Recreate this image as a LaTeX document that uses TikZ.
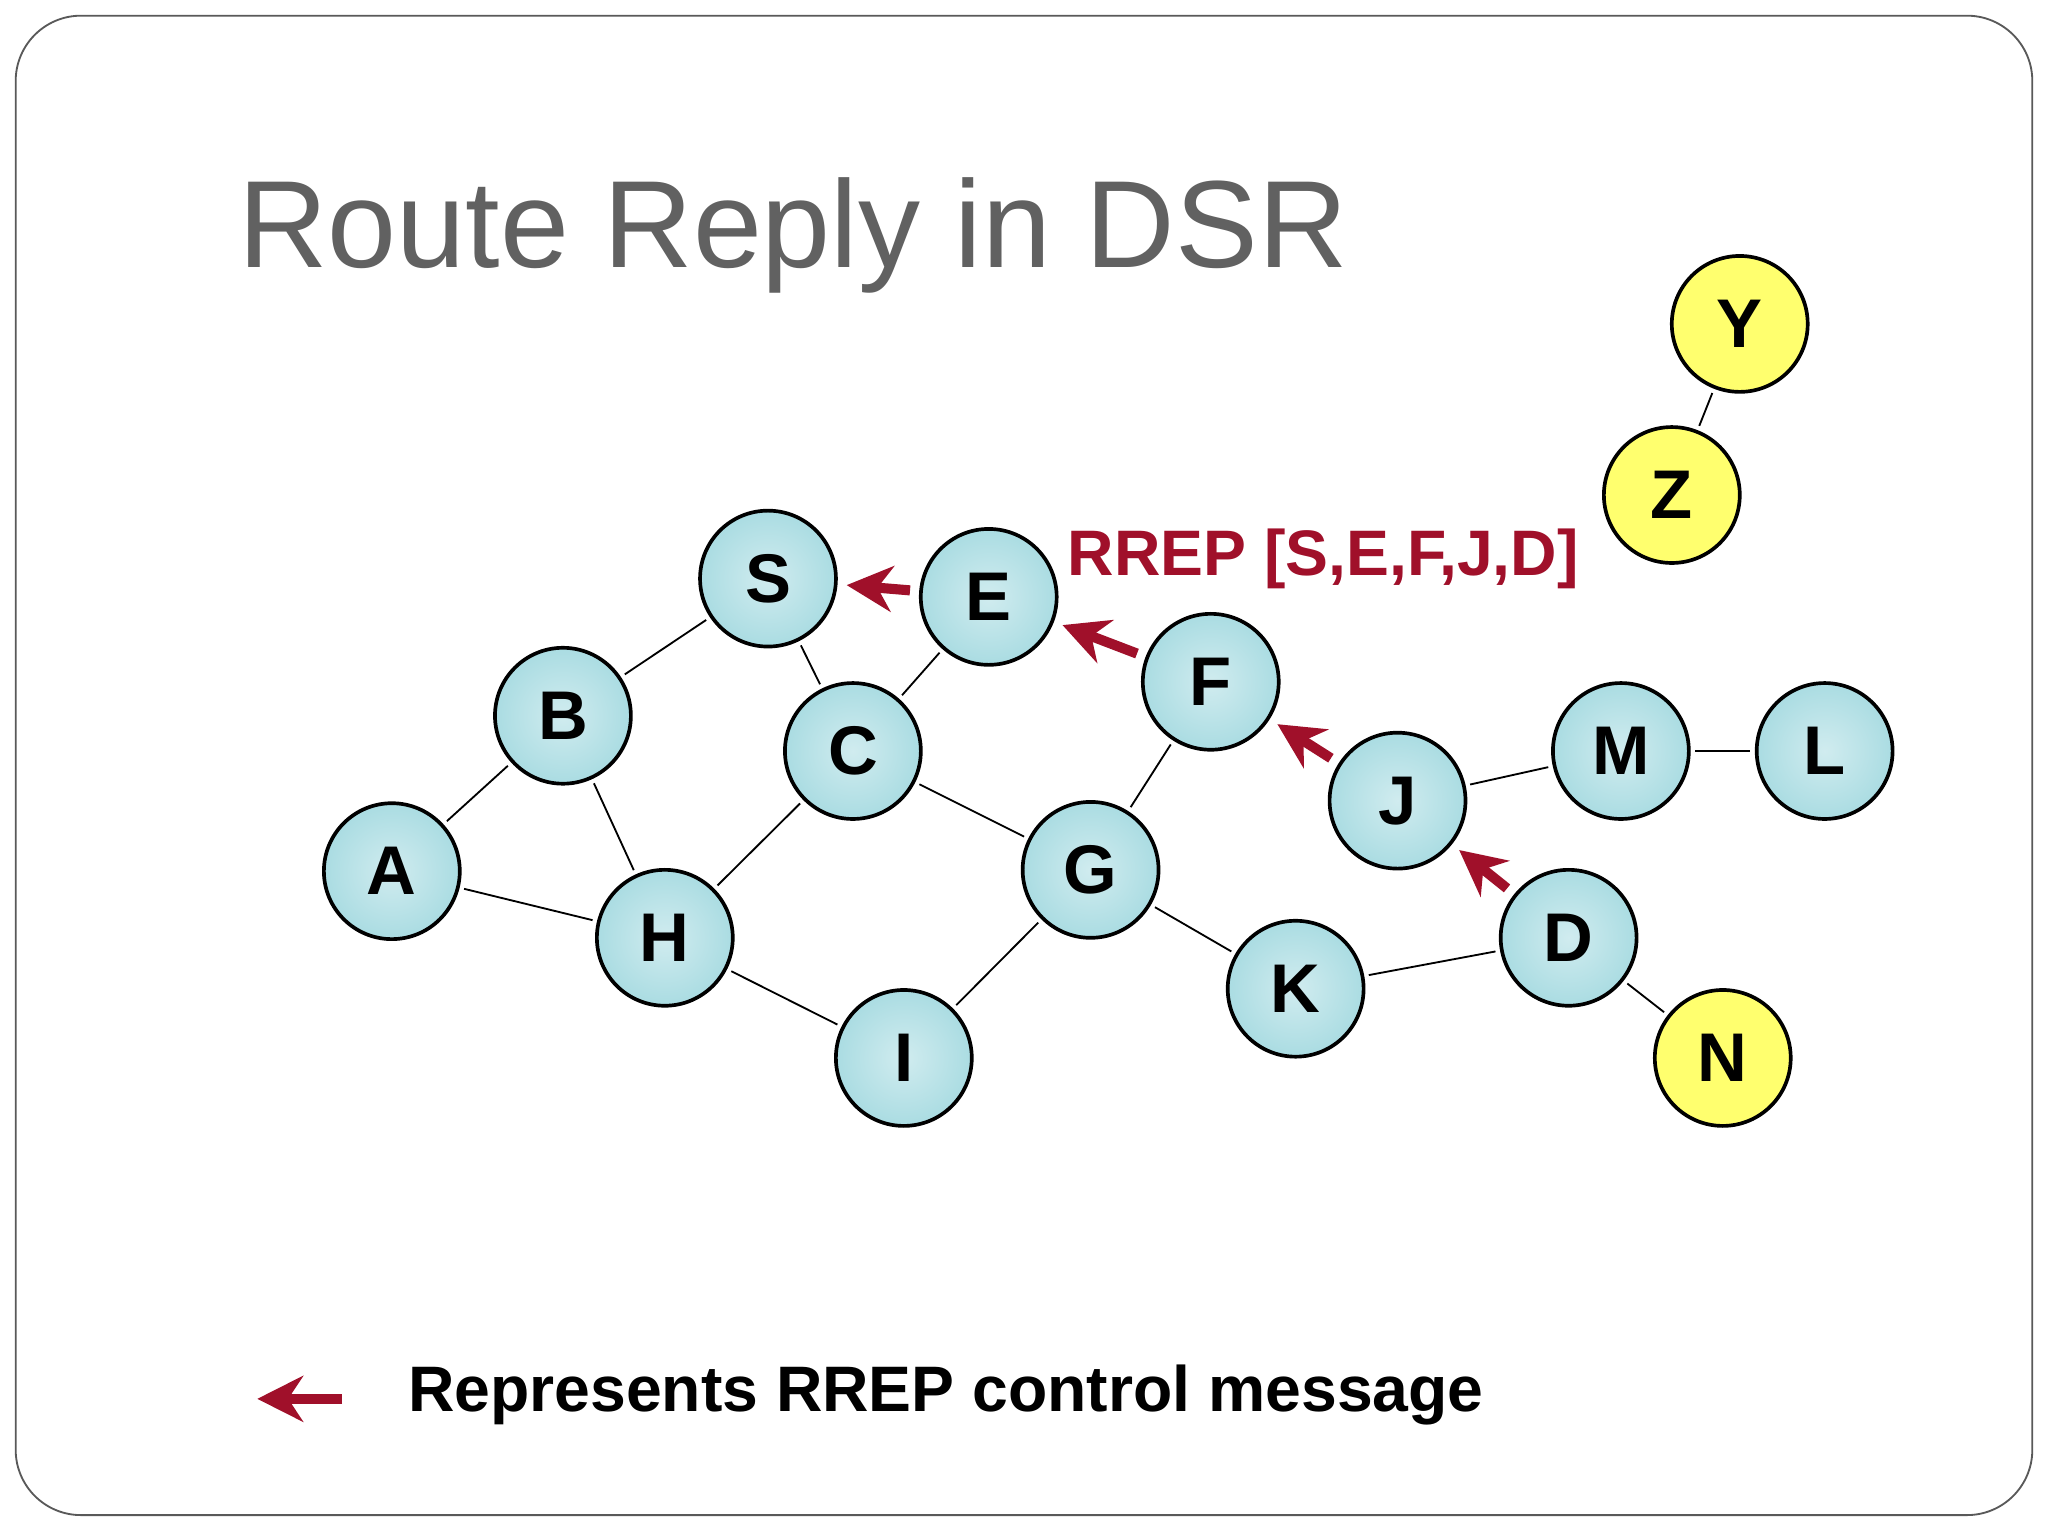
\documentclass[tikz,border=0pt]{standalone}
\usepackage{fontspec}
\setmainfont{Liberation Sans}
\usetikzlibrary{arrows.meta,positioning}

\definecolor{rrepred}{RGB}{160,16,42}
\definecolor{nodecyan}{RGB}{170,220,226}
\definecolor{nodeyellow}{RGB}{255,255,110}

\tikzset{
  base/.style={circle, draw=black, thick, minimum size=1.04cm, inner sep=0pt,
               font=\fontsize{15}{15}\selectfont\bfseries},
  host/.style={base, inner color=nodecyan!55, outer color=nodecyan},
  idle/.style={base, fill=nodeyellow},
  link/.style={black, thin, shorten <=1pt, shorten >=1pt},
  rrep/.style={rrepred, line width=2.2pt, -{Stealth[length=3.5mm,width=3.5mm]}, shorten <=2pt, shorten >=2pt}
}

\begin{document}
\begin{tikzpicture}[x=0.01cm, y=-0.01cm]
  % Frame
  \useasboundingbox (0,0) rectangle (1568,1176);
  \fill[white] (0,0) rectangle (1568,1176);
  \draw[gray!70!black, rounded corners=0.5cm] (12,12) rectangle (1556,1160);

  % Title
  \node[anchor=west, text=black!62, font=\fontsize{27}{27}\selectfont] (title) at (170,180) {Route Reply in DSR};

  % Hosts
  \node[host] (S) at (588,443) {S};
  \node[host] (E) at (757,457) {E};
  \node[host] (B) at (431,548) {B};
  \node[host] (C) at (653,575) {C};
  \node[host] (F) at (927,522) {F};
  \node[host] (A) at (300,667) {A};
  \node[host] (H) at (509,718) {H};
  \node[host] (G) at (835,666) {G};
  \node[host] (J) at (1070,613) {J};
  \node[host] (M) at (1241,575) {M};
  \node[host] (L) at (1397,575) {L};
  \node[host] (D) at (1201,718) {D};
  \node[host] (K) at (992,757) {K};
  \node[host] (I) at (692,810) {I};
  \node[idle] (N) at (1319,810) {N};
  \node[idle] (Y) at (1332,248) {Y};
  \node[idle] (Z) at (1280,379) {Z};

  % Links
  \foreach \u/\v in {S/B, S/C, E/C, B/A, B/H, A/H, C/H, C/G, H/I, I/G,
                     G/F, G/K, K/D, D/N, J/M, M/L, Y/Z}
    \draw[link] (\u) -- (\v);

  % Route reply
  \foreach \u/\v in {E/S, F/E, J/F, D/J}
    \draw[rrep] (\u) -- (\v);
  \node[text=rrepred, font=\fontsize{14}{14}\selectfont\bfseries] (label) at (1013,428) {RREP [S,E,F,J,D]};

  % Legend
  \coordinate (legstart) at (262,1071);
  \coordinate (legend) at (197,1071);
  \draw[rrep, shorten <=0pt, shorten >=0pt] (legstart) -- (legend);
  \node[anchor=west, font=\fontsize{14}{14}\selectfont\bfseries] (legtext) at (300,1068) {Represents RREP control message};
\end{tikzpicture}
\end{document}
